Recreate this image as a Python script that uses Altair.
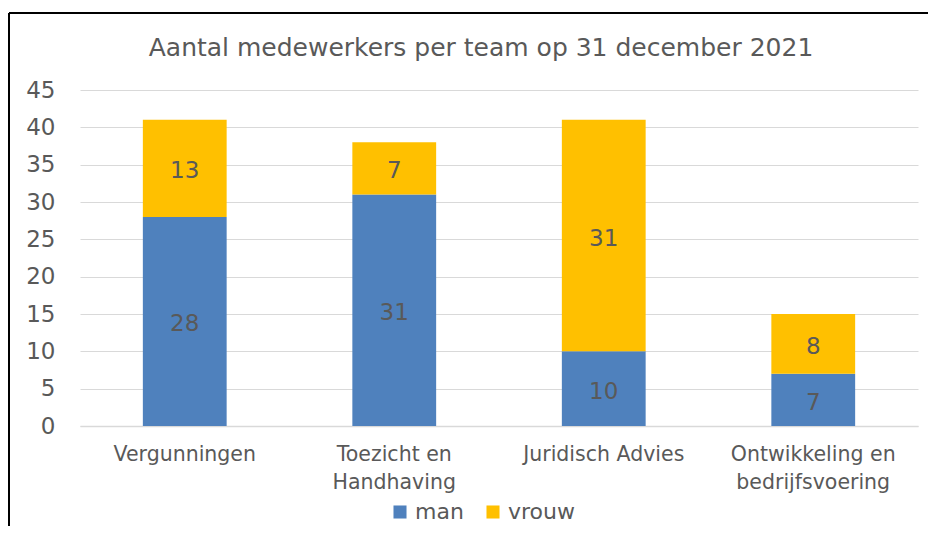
import altair as alt
import pandas as pd

teams = ["Vergunningen", "Toezicht en Handhaving", "Juridisch Advies", "Ontwikkeling en bedrijfsvoering"]
man = [28, 31, 10, 7]
vrouw = [13, 7, 31, 8]
series = ["man", "vrouw"]
colors = ["#4F81BD", "#FFC000"]
y_ticks = [0, 5, 10, 15, 20, 25, 30, 35, 40, 45]
title_text = "Aantal medewerkers per team op 31 december 2021"

rows = []
for t, m, v in zip(teams, man, vrouw):
    rows.append({"team": t, "geslacht": "man", "aantal": m, "ord": 0})
    rows.append({"team": t, "geslacht": "vrouw", "aantal": v, "ord": 1})
df = pd.DataFrame(rows)

TXT = "#595959"
FONT = "DejaVu Sans"

label_expr = (
    "datum.label == 'Toezicht en Handhaving' ? ['Toezicht en', 'Handhaving'] : "
    "datum.label == 'Ontwikkeling en bedrijfsvoering' ? ['Ontwikkeling en', 'bedrijfsvoering'] : datum.label"
)

base = alt.Chart(df).transform_stack(
    stack="aantal", groupby=["team"], as_=["y0", "y1"], sort=[alt.SortField("ord", order="ascending")]
).transform_calculate(mid="(datum.y0 + datum.y1) / 2")

x_axis = alt.Axis(
    labelAngle=0,
    labelFontSize=20.5,
    labelColor=TXT,
    labelFont=FONT,
    labelPadding=18,
    labelLineHeight=28,
    labelBaseline="top",
    ticks=False,
    domainColor="#d9d9d9",
    domainWidth=1.5,
    grid=False,
    labelExpr=label_expr,
)
x_scale = alt.Scale(paddingInner=0.6, paddingOuter=0.3)

y_axis = alt.Axis(
    values=y_ticks,
    labelFontSize=23,
    labelColor=TXT,
    labelFont=FONT,
    labelPadding=25,
    labelOverlap=False,
    ticks=False,
    domain=False,
    gridColor="#d9d9d9",
    gridWidth=1,
)
y_scale = alt.Scale(domain=[0, 45], nice=False)

bars = base.mark_bar().encode(
    x=alt.X("team:N", sort=teams, title=None, scale=x_scale, axis=x_axis),
    y=alt.Y("y0:Q", title=None, scale=y_scale, axis=y_axis),
    y2="y1:Q",
    color=alt.Color(
        "geslacht:N",
        scale=alt.Scale(domain=series, range=colors),
        legend=alt.Legend(
            title=None,
            orient="none",
            legendX=309,
            legendY=411,
            direction="horizontal",
            symbolType="square",
            symbolSize=170,
            symbolStrokeWidth=0,
            labelFontSize=22,
            labelColor=TXT,
            labelFont=FONT,
            columnPadding=18,
            labelOffset=4,
        ),
    ),
)

texts = base.mark_text(fontSize=23, color=TXT, font=FONT, baseline="middle", dy=3).encode(
    x=alt.X("team:N", sort=teams, title=None, scale=x_scale, axis=x_axis),
    y=alt.Y("mid:Q", title=None, scale=y_scale, axis=y_axis),
    text=alt.Text("aantal:Q"),
)

frame_data = alt.Data(values=[{"k": 1}])
top_rule = alt.Chart(frame_data).mark_rule(color="black", strokeWidth=2).encode(
    x=alt.value(-71), x2=alt.value(860), y=alt.value(-77)
)
left_rule = alt.Chart(frame_data).mark_rule(color="black", strokeWidth=2).encode(
    x=alt.value(-71), y=alt.value(-77), y2=alt.value(460)
)
title_mark = alt.Chart(frame_data).mark_text(
    fontSize=25, color=TXT, font=FONT, align="center", baseline="middle"
).encode(x=alt.value(401), y=alt.value(-42), text=alt.value(title_text))

chart = alt.layer(bars, texts, top_rule, left_rule, title_mark).properties(
    width=838,
    height=336,
    autosize=alt.AutoSizeParams(type="none"),
    padding={"left": 72, "top": 82, "right": 10, "bottom": 100},
).configure_view(strokeWidth=0, stroke=None)

chart.save("out.html", embed_options={"renderer": "svg", "actions": False})
